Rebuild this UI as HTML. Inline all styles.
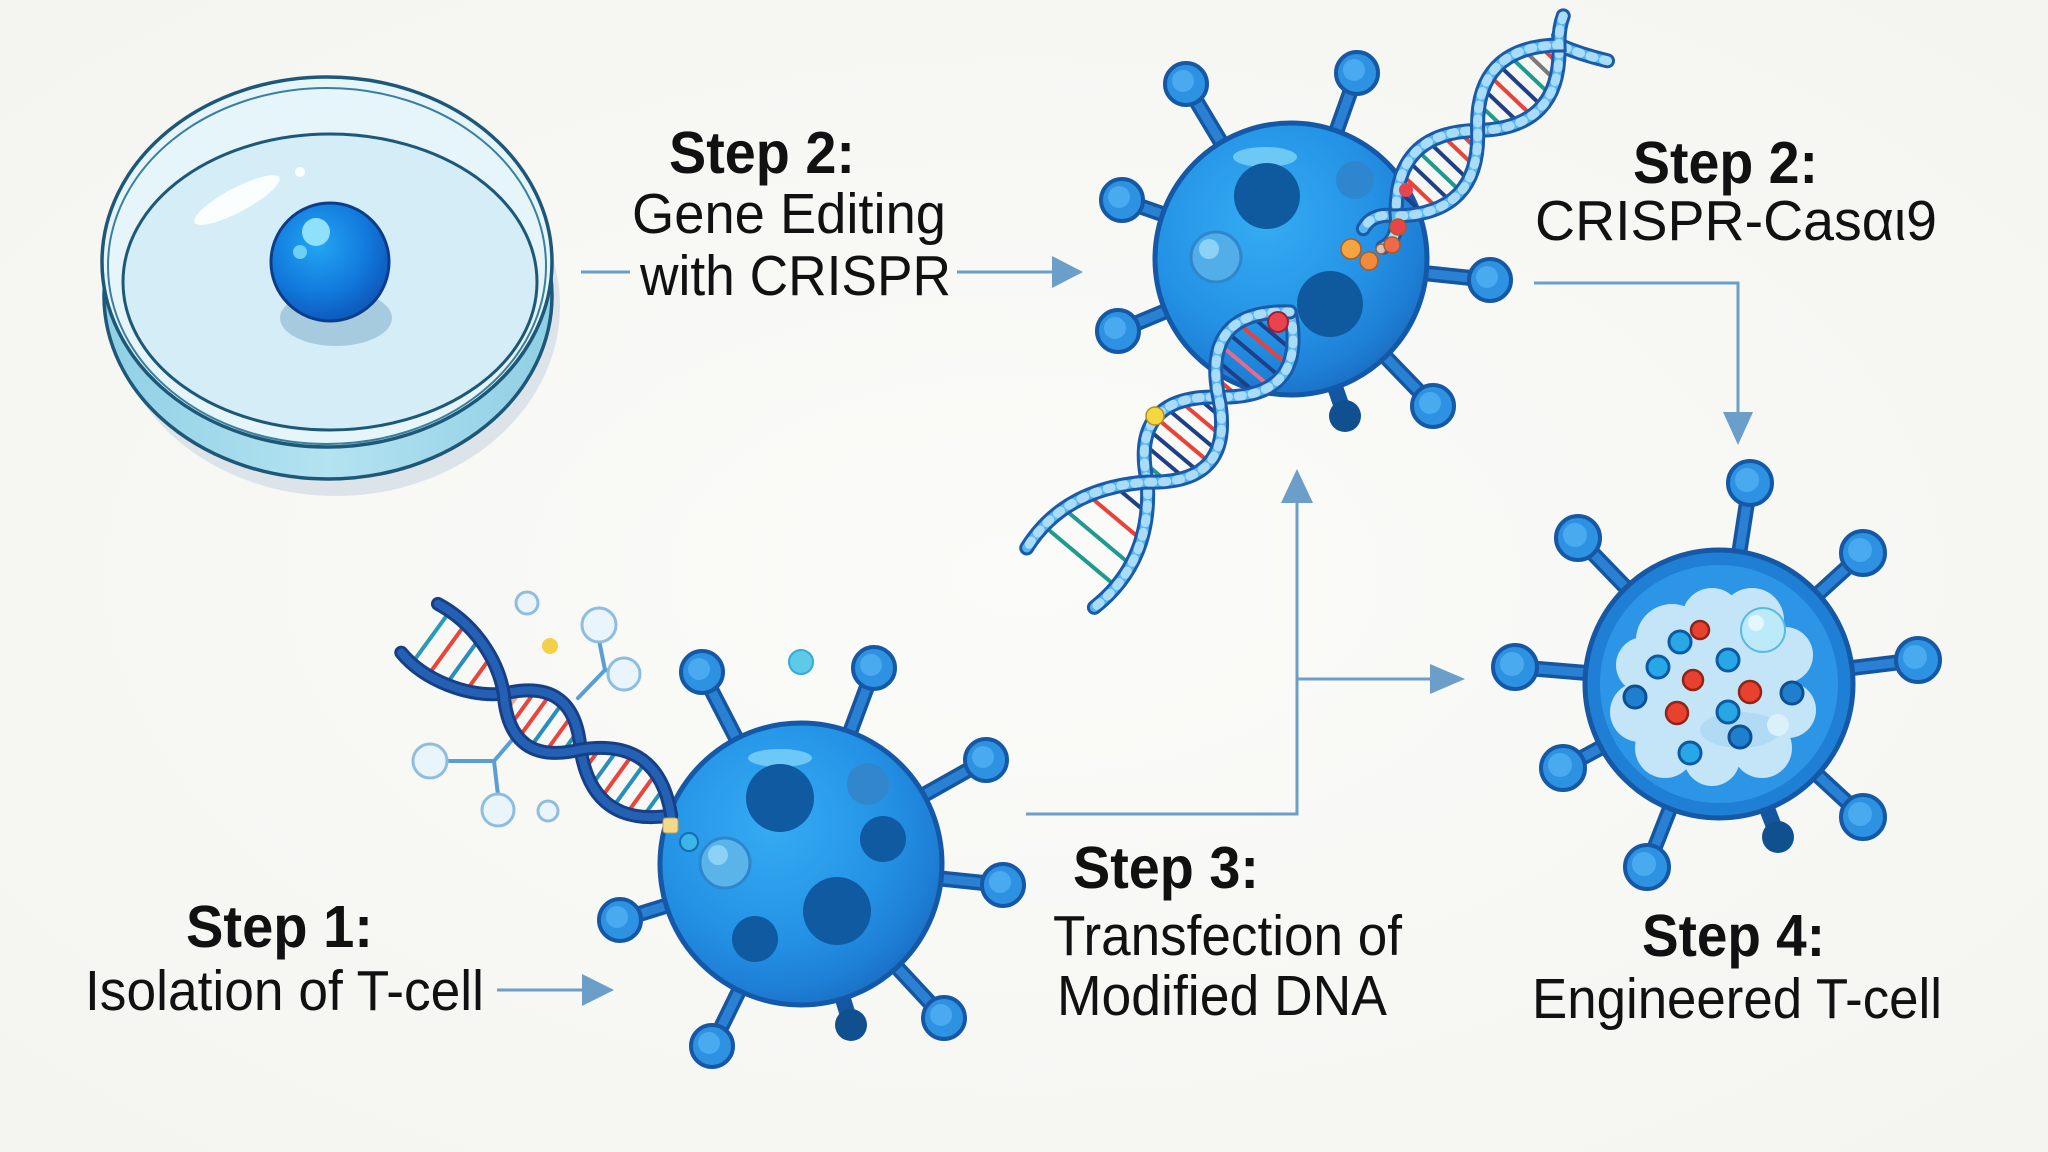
<!DOCTYPE html>
<html><head><meta charset="utf-8"><style>
html,body{margin:0;padding:0;background:#f7f7f4;}
svg{display:block;}
text{font-family:"Liberation Sans",Arial,sans-serif;fill:#111;}
</style></head><body>
<svg width="2048" height="1152" viewBox="0 0 2048 1152" xmlns="http://www.w3.org/2000/svg">
<defs>
<radialGradient id="bg" cx="50%" cy="50%" r="70%"><stop offset="0" stop-color="#fbfbf9"/><stop offset="1" stop-color="#f4f4f0"/></radialGradient>
<radialGradient id="body" cx="40%" cy="36%" r="68%"><stop offset="0" stop-color="#35acf3"/><stop offset="0.6" stop-color="#2492e5"/><stop offset="0.85" stop-color="#1e80d6"/><stop offset="1" stop-color="#1a6fc4"/></radialGradient>
<radialGradient id="dcell" cx="40%" cy="35%" r="70%"><stop offset="0" stop-color="#22a6f4"/><stop offset="0.6" stop-color="#1279dc"/><stop offset="1" stop-color="#0c55b6"/></radialGradient>
<linearGradient id="wall" x1="0" x2="1" y1="0" y2="0"><stop offset="0" stop-color="#8fd0e6"/><stop offset="0.5" stop-color="#b4e3f1"/><stop offset="1" stop-color="#8fcfe4"/></linearGradient>
<path id="u1" d="M -24,17 Q -12,12 0,0 Q 59,60 118,0 T 236,0 Q 252,-18 268,-12"/>
<path id="u2" d="M -22,-46 Q -8,-22 0,0 Q 59,-60 118,0 T 236,0 Q 250,20 268,15"/>
<path id="l1" d="M 0,0 Q 55,70 111,0 T 222,0 Q 280,60 350,50"/>
<path id="l2" d="M 0,0 Q 55,-70 111,0 T 222,0 Q 280,-55 352,-40"/>
<path id="d1" d="M 16,-34 C 60,-40 100,-22 122,0 Q 169.5,56 217,0 Q 273,-56 329,0"/>
<path id="d2" d="M 15,27 C 50,36 95,24 122,0 Q 169.5,-56 217,0 Q 273,56 329,0"/>
</defs>
<rect width="2048" height="1152" fill="url(#bg)"/>

<!-- Petri dish -->
<ellipse cx="336" cy="306" rx="224" ry="190" fill="#dce4ea"/>
<ellipse cx="328" cy="296" rx="224" ry="183" fill="url(#wall)" stroke="#1d5878" stroke-width="3.5"/>
<ellipse cx="327" cy="262" rx="225" ry="185" fill="#e6f5fa" stroke="#1d5878" stroke-width="3.5"/>
<ellipse cx="327" cy="266" rx="219" ry="178" fill="none" stroke="#3a7f9e" stroke-width="2"/>
<ellipse cx="330" cy="282" rx="207" ry="148" fill="#d5edf6" stroke="#1d5878" stroke-width="3"/>
<ellipse cx="237" cy="200" rx="48" ry="12" transform="rotate(-28 237 200)" fill="#ffffff" opacity="0.9"/>
<circle cx="300" cy="172" r="5" fill="#ffffff"/>
<ellipse cx="336" cy="318" rx="56" ry="28" fill="#a7cbde"/>
<circle cx="330" cy="262" r="59" fill="url(#dcell)" stroke="#0d3c8a" stroke-width="3"/>
<circle cx="316" cy="232" r="14" fill="#8fe0fa"/>
<circle cx="300" cy="252" r="7" fill="#6fd0f5"/>

<!-- Connectors -->
<g stroke="#6b9ec8" stroke-width="3" fill="none">
<line x1="581" y1="272" x2="630" y2="272"/>
<line x1="957" y1="272" x2="1054" y2="272"/>
<line x1="497" y1="990" x2="584" y2="990"/>
<polyline points="1026,814 1297,814 1297,500"/>
<line x1="1297" y1="679" x2="1432" y2="679"/>
<polyline points="1534,283 1738,283 1738,414"/>
</g>
<g fill="#6b9ec8">
<polygon points="1052,256 1083,272 1052,288"/>
<polygon points="582,974 614,990 582,1006"/>
<polygon points="1281,503 1297,469 1313,503"/>
<polygon points="1430,664 1465,679 1430,694"/>
<polygon points="1723,412 1738,445 1753,412"/>
</g>

<!-- Labels -->
<text x="669" y="173" font-size="59" font-weight="bold" textLength="186" lengthAdjust="spacingAndGlyphs">Step 2:</text>
<text x="632" y="233" font-size="57" textLength="314" lengthAdjust="spacingAndGlyphs">Gene Editing</text>
<text x="640" y="295" font-size="57" textLength="311" lengthAdjust="spacingAndGlyphs">with CRISPR</text>

<text x="1633" y="183" font-size="59" font-weight="bold" textLength="185" lengthAdjust="spacingAndGlyphs">Step 2:</text>
<text x="1535" y="240" font-size="57" textLength="402" lengthAdjust="spacingAndGlyphs">CRISPR-Casαι9</text>

<text x="186" y="947" font-size="59" font-weight="bold" textLength="187" lengthAdjust="spacingAndGlyphs">Step 1:</text>
<text x="85" y="1010" font-size="57" textLength="399" lengthAdjust="spacingAndGlyphs">Isolation of T-cell</text>

<text x="1073" y="888" font-size="59" font-weight="bold" textLength="186" lengthAdjust="spacingAndGlyphs">Step 3:</text>
<text x="1053" y="955" font-size="57" textLength="349" lengthAdjust="spacingAndGlyphs">Transfection of</text>
<text x="1057" y="1015" font-size="57" textLength="330" lengthAdjust="spacingAndGlyphs">Modified DNA</text>

<text x="1642" y="956" font-size="59" font-weight="bold" textLength="183" lengthAdjust="spacingAndGlyphs">Step 4:</text>
<text x="1532" y="1018" font-size="57" textLength="410" lengthAdjust="spacingAndGlyphs">Engineered T-cell</text>

<!-- ========== Top cell (Step 2) ========== -->
<g stroke-linecap="round">
<g stroke="#1556a0" stroke-width="16">
<line x1="1291" y1="259" x2="1186" y2="84"/><line x1="1291" y1="259" x2="1357" y2="73"/>
<line x1="1291" y1="259" x2="1122" y2="200"/><line x1="1291" y1="259" x2="1118" y2="331"/>
<line x1="1291" y1="259" x2="1490" y2="280"/><line x1="1291" y1="259" x2="1433" y2="406"/>
<line x1="1291" y1="259" x2="1345" y2="416"/>
</g>
<g stroke="#2a80d2" stroke-width="9">
<line x1="1291" y1="259" x2="1186" y2="84"/><line x1="1291" y1="259" x2="1357" y2="73"/>
<line x1="1291" y1="259" x2="1122" y2="200"/><line x1="1291" y1="259" x2="1118" y2="331"/>
<line x1="1291" y1="259" x2="1490" y2="280"/><line x1="1291" y1="259" x2="1433" y2="406"/>
</g>
</g>
<circle cx="1345" cy="416" r="16" fill="#10508f"/>
<g stroke="#1558a6" stroke-width="4" fill="#2e92e2">
<circle cx="1186" cy="84" r="21"/><circle cx="1357" cy="73" r="21"/><circle cx="1122" cy="200" r="21"/>
<circle cx="1118" cy="331" r="21"/><circle cx="1490" cy="280" r="21"/><circle cx="1433" cy="406" r="21"/>
</g>
<g fill="#4aaaf0">
<circle cx="1183" cy="81" r="11"/><circle cx="1354" cy="70" r="11"/><circle cx="1119" cy="197" r="11"/>
<circle cx="1115" cy="328" r="11"/><circle cx="1487" cy="277" r="11"/><circle cx="1430" cy="403" r="11"/>
</g>
<circle cx="1291" cy="259" r="136" fill="url(#body)" stroke="#1458a8" stroke-width="5"/>
<ellipse cx="1265" cy="157" rx="32" ry="10" fill="#6cc8f5"/>
<circle cx="1267" cy="196" r="33" fill="#0f5a9e"/>
<circle cx="1330" cy="304" r="33" fill="#0f5a9e"/>
<circle cx="1216" cy="257" r="25" fill="#52aee8" stroke="#2f86cc" stroke-width="3"/>
<circle cx="1209" cy="249" r="10" fill="#8cd2f7"/>
<circle cx="1355" cy="180" r="19" fill="#2e86cf"/>

<!-- upper helix -->
<g transform="translate(1559,45) rotate(133.6)" stroke-linecap="round">
<g stroke-width="4">
<line x1="14" y1="-8" x2="14" y2="8" stroke="#e8433a"/>
<line x1="28" y1="-17" x2="28" y2="17" stroke="#7a7a7a"/>
<line x1="42" y1="-22" x2="42" y2="22" stroke="#1f9a8e"/>
<line x1="56" y1="-25" x2="56" y2="25" stroke="#1f3f86"/>
<line x1="70" y1="-24" x2="70" y2="24" stroke="#e8433a"/>
<line x1="84" y1="-20" x2="84" y2="20" stroke="#1f3f86"/>
<line x1="98" y1="-12" x2="98" y2="12" stroke="#1f9a8e"/>
<line x1="132" y1="-8" x2="132" y2="8" stroke="#e8433a"/>
<line x1="146" y1="-17" x2="146" y2="17" stroke="#e8433a"/>
<line x1="160" y1="-22" x2="160" y2="22" stroke="#1f3f86"/>
<line x1="174" y1="-25" x2="174" y2="25" stroke="#1f9a8e"/>
<line x1="188" y1="-24" x2="188" y2="24" stroke="#1f3f86"/>
<line x1="202" y1="-20" x2="202" y2="20" stroke="#e8433a"/>
<line x1="216" y1="-12" x2="216" y2="12" stroke="#1f3f86"/>
</g>
<g fill="none">
<use href="#u2" stroke="#1a5aa8" stroke-width="15"/>
<use href="#u2" stroke="#58b6ee" stroke-width="9"/>
<use href="#u2" stroke="#a8dcf8" stroke-width="9" stroke-dasharray="4 10"/>
<use href="#u1" stroke="#1a5aa8" stroke-width="15"/>
<use href="#u1" stroke="#58b6ee" stroke-width="9"/>
<use href="#u1" stroke="#a8dcf8" stroke-width="9" stroke-dasharray="4 10"/>
</g>
</g>
<!-- lower helix -->
<g transform="translate(1290,312) rotate(130)" stroke-linecap="round">
<g stroke-width="4">
<line x1="14" y1="-9" x2="14" y2="9" stroke="#e8433a"/>
<line x1="28" y1="-20" x2="28" y2="20" stroke="#1f3f86"/>
<line x1="42" y1="-27" x2="42" y2="27" stroke="#e8433a"/>
<line x1="56" y1="-29" x2="56" y2="29" stroke="#1f3f86"/>
<line x1="70" y1="-27" x2="70" y2="27" stroke="#e86a8a"/>
<line x1="84" y1="-20" x2="84" y2="20" stroke="#1f3f86"/>
<line x1="98" y1="-8" x2="98" y2="8" stroke="#e8433a"/>
<line x1="125" y1="-9" x2="125" y2="9" stroke="#1f3f86"/>
<line x1="139" y1="-20" x2="139" y2="20" stroke="#e8433a"/>
<line x1="153" y1="-27" x2="153" y2="27" stroke="#1f3f86"/>
<line x1="167" y1="-29" x2="167" y2="29" stroke="#e8433a"/>
<line x1="181" y1="-27" x2="181" y2="27" stroke="#1f3f86"/>
<line x1="195" y1="-20" x2="195" y2="20" stroke="#1f3f86"/>
<line x1="209" y1="-8" x2="209" y2="8" stroke="#1f9a8e"/>
<line x1="246" y1="-13" x2="246" y2="15" stroke="#1f3f86"/>
<line x1="270" y1="-27" x2="270" y2="30" stroke="#e8433a"/>
<line x1="296" y1="-35" x2="296" y2="40" stroke="#1f9a8e"/>
<line x1="322" y1="-37" x2="322" y2="44" stroke="#1f9a8e"/>
</g>
<g fill="none">
<use href="#l2" stroke="#1a5aa8" stroke-width="15"/>
<use href="#l2" stroke="#58b6ee" stroke-width="9"/>
<use href="#l2" stroke="#a8dcf8" stroke-width="9" stroke-dasharray="4 10"/>
<use href="#l1" stroke="#1a5aa8" stroke-width="15"/>
<use href="#l1" stroke="#58b6ee" stroke-width="9"/>
<use href="#l1" stroke="#a8dcf8" stroke-width="9" stroke-dasharray="4 10"/>
</g>
</g>
<circle cx="1278" cy="322" r="10" fill="#e8434f" stroke="#a02030" stroke-width="2"/>
<circle cx="1155" cy="416" r="9" fill="#f5d742" stroke="#b09020" stroke-width="1.5"/>
<circle cx="1406" cy="190" r="7" fill="#e8434f"/>
<g stroke="#b05a20" stroke-width="1.5">
<circle cx="1351" cy="249" r="10" fill="#f5a442"/>
<circle cx="1369" cy="261" r="9" fill="#f08a3c"/>
<circle cx="1381" cy="249" r="5" fill="#c8c8c8"/>
<circle cx="1392" cy="245" r="8" fill="#ee6a4a"/>
<circle cx="1398" cy="227" r="8" fill="#e84545"/>
</g>

<!-- ========== Bottom-left cell (Step 1) ========== -->
<g stroke="#5a9fd4" stroke-width="4" stroke-linecap="round" fill="none">
<polyline points="599,640 605,670 624,674"/>
<line x1="605" y1="670" x2="578" y2="698"/>
<polyline points="446,761 494,761 498,795"/>
<line x1="494" y1="761" x2="519" y2="732"/>
</g>
<g fill="#eaf5fb" stroke="#8fbde0" stroke-width="3">
<circle cx="599" cy="625" r="17"/><circle cx="624" cy="674" r="16"/>
<circle cx="430" cy="761" r="17"/><circle cx="498" cy="810" r="16"/>
<circle cx="527" cy="603" r="11"/><circle cx="548" cy="811" r="10"/>
</g>
<circle cx="550" cy="646" r="8" fill="#f2d04a"/>
<circle cx="801" cy="662" r="12" fill="#5dcbe8" stroke="#3aa8d8" stroke-width="2"/>

<g stroke-linecap="round">
<g stroke="#1556a0" stroke-width="16">
<line x1="801" y1="864" x2="702" y2="672"/><line x1="801" y1="864" x2="874" y2="668"/>
<line x1="801" y1="864" x2="986" y2="760"/><line x1="801" y1="864" x2="1003" y2="885"/>
<line x1="801" y1="864" x2="620" y2="920"/><line x1="801" y1="864" x2="944" y2="1018"/>
<line x1="801" y1="864" x2="712" y2="1046"/><line x1="801" y1="864" x2="851" y2="1025"/>
</g>
<g stroke="#2a80d2" stroke-width="9">
<line x1="801" y1="864" x2="702" y2="672"/><line x1="801" y1="864" x2="874" y2="668"/>
<line x1="801" y1="864" x2="986" y2="760"/><line x1="801" y1="864" x2="1003" y2="885"/>
<line x1="801" y1="864" x2="620" y2="920"/><line x1="801" y1="864" x2="944" y2="1018"/>
<line x1="801" y1="864" x2="712" y2="1046"/>
</g>
</g>
<circle cx="851" cy="1025" r="16" fill="#10508f"/>
<g stroke="#1558a6" stroke-width="4" fill="#2e92e2">
<circle cx="702" cy="672" r="21"/><circle cx="874" cy="668" r="21"/><circle cx="986" cy="760" r="21"/>
<circle cx="1003" cy="885" r="21"/><circle cx="620" cy="920" r="21"/><circle cx="944" cy="1018" r="21"/>
<circle cx="712" cy="1046" r="21"/>
</g>
<g fill="#4aaaf0">
<circle cx="699" cy="669" r="11"/><circle cx="871" cy="665" r="11"/><circle cx="983" cy="757" r="11"/>
<circle cx="1000" cy="882" r="11"/><circle cx="617" cy="917" r="11"/><circle cx="941" cy="1015" r="11"/>
<circle cx="709" cy="1043" r="11"/>
</g>
<circle cx="801" cy="864" r="141" fill="url(#body)" stroke="#1458a8" stroke-width="5"/>
<ellipse cx="780" cy="758" rx="32" ry="9" fill="#6cc8f5"/>
<circle cx="780" cy="798" r="34" fill="#0f5aa0"/>
<circle cx="868" cy="784" r="21" fill="#3286cc"/>
<circle cx="883" cy="839" r="23" fill="#0f5aa0"/>
<circle cx="837" cy="911" r="34" fill="#0f5aa0"/>
<circle cx="755" cy="939" r="23" fill="#0f5aa0"/>
<circle cx="725" cy="863" r="25" fill="#5ab4ea" stroke="#2f86cc" stroke-width="3"/>
<circle cx="718" cy="855" r="10" fill="#8cd2f7"/>

<!-- bottom-left DNA -->
<g transform="translate(405,622) rotate(36)" stroke-linecap="round">
<g stroke-width="4">
<line x1="30" y1="-31" x2="30" y2="25" stroke="#2a9ab8"/>
<line x1="50" y1="-30" x2="50" y2="26" stroke="#e8453c"/>
<line x1="70" y1="-25" x2="70" y2="22" stroke="#2a8fb8"/>
<line x1="90" y1="-16" x2="90" y2="14" stroke="#e8453c"/>
<line x1="134" y1="-7" x2="134" y2="7" stroke="#f0a090"/>
<line x1="146" y1="-16" x2="146" y2="16" stroke="#e8453c"/>
<line x1="160" y1="-22" x2="160" y2="22" stroke="#e8453c"/>
<line x1="175" y1="-22" x2="175" y2="22" stroke="#2a8fb8"/>
<line x1="190" y1="-18" x2="190" y2="18" stroke="#e8453c"/>
<line x1="204" y1="-8" x2="204" y2="8" stroke="#2a8fb8"/>
<line x1="232" y1="-8" x2="232" y2="8" stroke="#e8453c"/>
<line x1="247" y1="-17" x2="247" y2="17" stroke="#2a8fb8"/>
<line x1="262" y1="-22" x2="262" y2="22" stroke="#e8453c"/>
<line x1="277" y1="-23" x2="277" y2="23" stroke="#2a8fb8"/>
<line x1="292" y1="-20" x2="292" y2="20" stroke="#e8453c"/>
<line x1="307" y1="-12" x2="307" y2="12" stroke="#2a8fb8"/>
</g>
<g fill="none">
<use href="#d2" stroke="#163f85" stroke-width="14"/>
<use href="#d2" stroke="#2461b5" stroke-width="8"/>
<use href="#d1" stroke="#163f85" stroke-width="14"/>
<use href="#d1" stroke="#2461b5" stroke-width="8"/>
</g>
</g>
<rect x="663" y="818" width="15" height="15" rx="3" fill="#f4d98a" stroke="#c0a050" stroke-width="1"/>
<circle cx="689" cy="842" r="9" fill="#39b8e8" stroke="#1a6ab0" stroke-width="2"/>

<!-- ========== Engineered cell (Step 4) ========== -->
<g stroke-linecap="round">
<g stroke="#1556a0" stroke-width="16">
<line x1="1719" y1="684" x2="1750" y2="483"/><line x1="1719" y1="684" x2="1578" y2="538"/>
<line x1="1719" y1="684" x2="1863" y2="553"/><line x1="1719" y1="684" x2="1515" y2="667"/>
<line x1="1719" y1="684" x2="1918" y2="660"/><line x1="1719" y1="684" x2="1563" y2="768"/>
<line x1="1719" y1="684" x2="1863" y2="817"/><line x1="1719" y1="684" x2="1647" y2="867"/>
<line x1="1719" y1="684" x2="1778" y2="837"/>
</g>
<g stroke="#2a80d2" stroke-width="9">
<line x1="1719" y1="684" x2="1750" y2="483"/><line x1="1719" y1="684" x2="1578" y2="538"/>
<line x1="1719" y1="684" x2="1863" y2="553"/><line x1="1719" y1="684" x2="1515" y2="667"/>
<line x1="1719" y1="684" x2="1918" y2="660"/><line x1="1719" y1="684" x2="1563" y2="768"/>
<line x1="1719" y1="684" x2="1863" y2="817"/><line x1="1719" y1="684" x2="1647" y2="867"/>
</g>
</g>
<circle cx="1778" cy="837" r="16" fill="#10508f"/>
<g stroke="#1558a6" stroke-width="4" fill="#2e92e2">
<circle cx="1750" cy="483" r="22"/><circle cx="1578" cy="538" r="22"/><circle cx="1863" cy="553" r="22"/>
<circle cx="1515" cy="667" r="22"/><circle cx="1918" cy="660" r="22"/><circle cx="1563" cy="768" r="22"/>
<circle cx="1863" cy="817" r="22"/><circle cx="1647" cy="867" r="22"/>
</g>
<g fill="#4aaaf0">
<circle cx="1747" cy="480" r="12"/><circle cx="1575" cy="535" r="12"/><circle cx="1860" cy="550" r="12"/>
<circle cx="1512" cy="664" r="12"/><circle cx="1915" cy="657" r="12"/><circle cx="1560" cy="765" r="12"/>
<circle cx="1860" cy="814" r="12"/><circle cx="1644" cy="864" r="12"/>
</g>
<circle cx="1719" cy="684" r="134" fill="#1f7fd4" stroke="#1458a6" stroke-width="5"/>
<circle cx="1719" cy="684" r="119" fill="#2d95e6"/>
<g fill="#c4e5f7">
<circle cx="1712" cy="690" r="72"/><circle cx="1672" cy="640" r="36"/><circle cx="1712" cy="618" r="30"/>
<circle cx="1752" cy="620" r="32"/><circle cx="1785" cy="655" r="28"/><circle cx="1788" cy="710" r="28"/>
<circle cx="1762" cy="748" r="30"/><circle cx="1712" cy="758" r="28"/><circle cx="1665" cy="748" r="30"/>
<circle cx="1640" cy="712" r="30"/><circle cx="1644" cy="665" r="28"/>
</g>
<ellipse cx="1740" cy="730" rx="40" ry="18" fill="#a9d6f2" opacity="0.7"/>
<circle cx="1763" cy="630" r="22" fill="#bdeaf9" stroke="#5ab8e6" stroke-width="2"/>
<circle cx="1756" cy="623" r="8" fill="#e4f7fd"/>
<circle cx="1778" cy="725" r="11" fill="#dbf1fa"/>
<g stroke="#0d5aa4" stroke-width="3" fill="#27a7e6">
<circle cx="1680" cy="642" r="11"/><circle cx="1658" cy="667" r="11"/><circle cx="1728" cy="660" r="11"/>
<circle cx="1728" cy="712" r="11"/><circle cx="1690" cy="753" r="11"/>
</g>
<g stroke="#0d4f90" stroke-width="3" fill="#1d7fce">
<circle cx="1635" cy="697" r="11"/><circle cx="1792" cy="693" r="11"/><circle cx="1740" cy="737" r="11"/>
</g>
<g stroke="#8f2418" stroke-width="2.5" fill="#e8412d">
<circle cx="1700" cy="630" r="9"/><circle cx="1693" cy="680" r="10"/>
<circle cx="1750" cy="692" r="11"/><circle cx="1677" cy="713" r="11"/>
</g>
</svg>
</body></html>
